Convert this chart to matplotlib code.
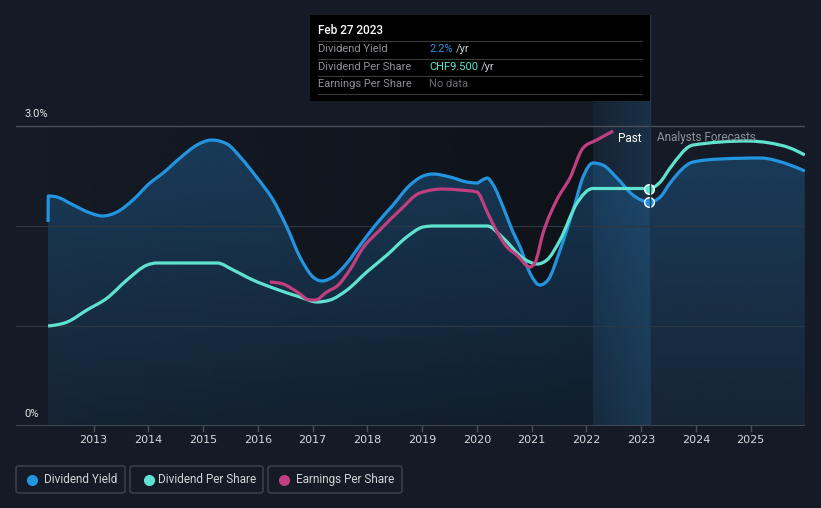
import numpy as np
import matplotlib
matplotlib.use("Agg")
import matplotlib.pyplot as plt
from matplotlib.patches import FancyBboxPatch, Rectangle, PathPatch
from matplotlib.path import Path
from matplotlib.lines import Line2D
from matplotlib.colors import to_rgb

# ---------------- data ----------------
yield_t = [2012.17, 2012.175, 2012.33, 2012.63, 2012.94, 2013.17, 2013.43, 2013.72, 2014.03, 2014.27,
           2014.58, 2014.89, 2015.16, 2015.44, 2015.68, 2015.99, 2016.28, 2016.53, 2016.77, 2017.01,
           2017.17, 2017.37, 2017.63, 2017.87, 2018.18, 2018.47, 2018.78, 2019.02, 2019.20, 2019.51,
           2019.82, 2020.00, 2020.10, 2020.19, 2020.30, 2020.48, 2020.66, 2020.79, 2020.97, 2021.15,
           2021.30, 2021.52, 2021.76, 2021.94, 2022.12, 2022.30, 2022.56, 2022.85, 2023.15, 2023.35,
           2023.53, 2023.95, 2024.44, 2025.17, 2025.72, 2025.99]
yield_v = [2.04, 2.30, 2.29, 2.21, 2.13, 2.10, 2.14, 2.26, 2.43, 2.53,
           2.68, 2.81, 2.86, 2.82, 2.69, 2.48, 2.26, 1.99, 1.69, 1.49,
           1.45, 1.49, 1.63, 1.81, 2.03, 2.21, 2.41, 2.50, 2.52, 2.49,
           2.44, 2.43, 2.46, 2.48, 2.41, 2.19, 1.94, 1.79, 1.53, 1.41,
           1.46, 1.76, 2.16, 2.49, 2.63, 2.61, 2.48, 2.31, 2.24, 2.29,
           2.43, 2.64, 2.67, 2.68, 2.61, 2.55]

dps_t = [2012.17, 2012.52, 2012.88, 2013.25, 2013.61, 2013.98, 2014.16, 2015.26, 2015.55, 2015.91,
         2016.28, 2016.77, 2017.08, 2017.32, 2017.63, 2017.99, 2018.36, 2018.72, 2019.02, 2019.20,
         2020.19, 2020.48, 2020.84, 2021.10, 2021.28, 2021.52, 2021.83, 2022.12, 2023.15, 2023.35,
         2023.53, 2023.95, 2024.93, 2025.35, 2025.72, 2025.99]
dps_v = [4.00, 4.16, 4.64, 5.12, 5.84, 6.44, 6.52, 6.52, 6.24, 5.84,
         5.52, 5.16, 4.96, 5.04, 5.44, 6.16, 6.84, 7.56, 7.96, 8.00,
         8.00, 7.52, 6.72, 6.48, 6.64, 7.44, 8.92, 9.50, 9.50, 9.76,
         10.32, 11.24, 11.40, 11.32, 11.12, 10.84]

eps_t = [2016.22, 2016.46, 2016.72, 2016.95, 2017.05, 2017.26, 2017.47, 2017.68, 2017.92, 2018.23,
         2018.60, 2018.96, 2019.38, 2019.69, 2020.00, 2020.19, 2020.37, 2020.55, 2020.73, 2020.97,
         2021.06, 2021.21, 2021.46, 2021.70, 2021.94, 2022.19, 2022.49]
eps_v = [14.4, 14.2, 13.4, 12.6, 12.6, 13.4, 14.1, 15.6, 17.8, 19.6,
         21.6, 23.3, 23.7, 23.6, 23.4, 21.4, 19.4, 17.9, 17.1, 15.9,
         16.3, 19.3, 22.6, 24.8, 27.8, 28.6, 29.5]

years = list(range(2013, 2026))
today = 2023.15
past_band_start = 2022.12

BLUE = "#2394df"
TEAL = "#5fe3cf"
PINK = "#c13f80"
BG = "#151b26"


def monotone_path(xs, ys):
    """Smooth monotone-x cubic Bezier path through the given points."""
    x = np.asarray(xs, float)
    y = np.asarray(ys, float)
    nn = len(x)
    h = np.diff(x)
    s = np.diff(y) / h
    t = np.zeros(nn)
    for i in range(1, nn - 1):
        h0, h1, s0, s1 = h[i - 1], h[i], s[i - 1], s[i]
        p = (s0 * h1 + s1 * h0) / (h0 + h1)
        t[i] = (np.sign(s0) + np.sign(s1)) * min(abs(s0), abs(s1), 0.5 * abs(p))
    t[0] = (3 * s[0] - t[1]) / 2 if nn > 2 else s[0]
    t[-1] = (3 * s[-1] - t[-2]) / 2 if nn > 2 else s[-1]
    verts = [(x[0], y[0])]
    codes = [Path.MOVETO]
    for i in range(nn - 1):
        dx = (x[i + 1] - x[i]) / 3
        verts += [(x[i] + dx, y[i] + dx * t[i]), (x[i + 1] - dx, y[i + 1] - dx * t[i + 1]), (x[i + 1], y[i + 1])]
        codes += [Path.CURVE4] * 3
    return verts, codes


W, H = 821, 508
fig = plt.figure(figsize=(W / 100, H / 100), dpi=100, facecolor=BG)


def fx(px):
    return px / W


def fy(py):
    return 1 - py / H


ax = fig.add_axes([fx(16), fy(426), fx(805) - fx(16), fy(100) - fy(426)])
ax.set_facecolor("none")
xmin = 2013 + (16 - 93.5) / 54.76
xmax = 2013 + (805 - 93.5) / 54.76
ytop = 3.26
for sp in ax.spines.values():
    sp.set_visible(False)
ax.set_xticks([])
ax.set_yticks([])

t0 = yield_t[0]
t1 = yield_t[-1]

# dark horizontal gradient over past region
n = 256
grad = np.zeros((1, n, 4))
grad[..., 0:3] = np.array(to_rgb("#0a0d12"))
grad[0, :, 3] = np.linspace(0.05, 0.6, n)
ax.imshow(grad, extent=[t0, past_band_start, 0, 3.0], aspect="auto", origin="lower", zorder=0.5,
          interpolation="bilinear")

# fill under yield curve (vertical gradient)
yv_verts, yv_codes = monotone_path(yield_t, yield_v)
fill_path = Path(yv_verts + [(t1, 0), (t0, 0), (t0, 0)], yv_codes + [Path.LINETO, Path.LINETO, Path.CLOSEPOLY])
clip = PathPatch(fill_path, facecolor="none", edgecolor="none", transform=ax.transData)
ax.add_patch(clip)
m = 256
vg = np.zeros((m, 1, 4))
vg[..., 0:3] = np.array(to_rgb("#1f5a8a"))
vg[:, 0, 3] = np.linspace(0.15, 0.55, m)
im = ax.imshow(vg, extent=[t0, t1, 0, 3.0], aspect="auto", origin="lower", zorder=1,
               interpolation="bilinear")
im.set_clip_path(clip)

# past highlight band
bg2 = np.zeros((1, n, 4))
bg2[..., 0:3] = np.array(to_rgb("#2a80c0"))
bg2[0, :, 3] = np.linspace(0.07, 0.22, n)
ax.imshow(bg2, extent=[past_band_start, today, 0, ytop], aspect="auto", origin="lower", zorder=1.2,
          interpolation="bilinear")

# grid lines
ax.axhline(3.0, color="#4a5059", lw=1.0, zorder=1.5)
for g in (1.0, 2.0):
    ax.axhline(g, color="#2c3744", lw=0.9, zorder=1.5)
ax.axhline(0.0, color="#4a5059", lw=1.2, zorder=1.5)

ax.set_xlim(xmin, xmax)
ax.set_ylim(0, ytop)

# twin axes for DPS and EPS (hidden scales)
ax2 = ax.twinx()
ax2.set_ylim(0, 12.0 * ytop / 3.0)
ax3 = ax.twinx()
ax3.set_ylim(0, 30.0 * ytop / 3.0)
for a in (ax2, ax3):
    a.set_facecolor("none")
    a.set_yticks([])
    for sp in a.spines.values():
        sp.set_visible(False)
    a.set_xlim(xmin, xmax)

for a, xs, ys, col, z in ((ax, yield_t, yield_v, BLUE, 5), (ax2, dps_t, dps_v, TEAL, 4), (ax3, eps_t, eps_v, PINK, 3)):
    v, c = monotone_path(xs, ys)
    a.add_patch(PathPatch(Path(v, c), facecolor="none", edgecolor=col, lw=2.3, zorder=z,
                          joinstyle="round", capstyle="butt", transform=a.transData))

ax.plot([today], [yield_v[yield_t.index(today)]], "o", ms=7, mfc=BLUE, mec="white", mew=1.0, zorder=6)
ax2.plot([today], [dps_v[dps_t.index(today)]], "o", ms=7, mfc=TEAL, mec="white", mew=1.0, zorder=6)

# tick marks and labels
for yr in years:
    xp = 93.5 + (yr - 2013) * 54.76
    fig.add_artist(Line2D([fx(xp), fx(xp)], [fy(426), fy(431)], color="#4a5059", lw=1.0))
    fig.text(fx(xp), fy(440), str(yr), color="#d6d9dd", fontsize=8, ha="center", va="center",
             family=["Liberation Sans Narrow", "DejaVu Sans"])

# vertical line at today up to tooltip
fig.add_artist(Line2D([fx(650), fx(650)], [fy(426), fy(15)], color="#243447", lw=1.0, zorder=2))

# y labels
fig.text(fx(24), fy(114), "3.0%", color="#e2e4e7", fontsize=8, ha="left", va="center", family="Roboto")
fig.text(fx(24), fy(414), "0%", color="#e2e4e7", fontsize=8, ha="left", va="center", family="Roboto")

# past / forecast labels
fig.text(fx(641), fy(138), "Past", color="#ffffff", fontsize=8.5, ha="right", va="center", family="Roboto")
fig.text(fx(657), fy(138), "Analysts Forecasts", color="#8b9199", fontsize=8.5, ha="left", va="center",
         family="Roboto")

# tooltip
fig.add_artist(Rectangle((fx(310), fy(101)), fx(650) - fx(310), fy(15) - fy(101), facecolor="black",
                         edgecolor="none", zorder=10))
fig.text(fx(318), fy(31), "Feb 27 2023", color="white", fontsize=8.5, ha="left", va="center",
         family="Roboto", fontweight="medium", zorder=11)
for ys_ in (41, 58.5, 76, 93.5):
    fig.add_artist(Line2D([fx(318), fx(642)], [fy(ys_), fy(ys_)], color="#3a3a3a", lw=0.8, zorder=11))
rows = [("Dividend Yield", 49, "2.2%", BLUE, 456),
        ("Dividend Per Share", 66.5, "CHF9.500", TEAL, 481),
        ("Earnings Per Share", 84, "No data", "#666a70", None)]
for lab, yy, val, col, xs_ in rows:
    fig.text(fx(318), fy(yy), lab, color="#8d9196", fontsize=8, ha="left", va="center", family="Roboto",
             zorder=11)
    fig.text(fx(429), fy(yy), val, color=col, fontsize=8, ha="left", va="center", family="Roboto", zorder=11)
    if xs_ is not None:
        fig.text(fx(xs_), fy(yy), "/yr", color="#c8ccd0", fontsize=8, ha="left", va="center", family="Roboto",
                 zorder=11)

# legend
legend_items = [("Dividend Yield", BLUE, 16, 125, 32, 44),
                ("Dividend Per Share", TEAL, 130, 263, 149, 158),
                ("Earnings Per Share", PINK, 268, 402, 284, 296)]
for lab, col, x0, x1, xd, xt in legend_items:
    fig.add_artist(FancyBboxPatch((fx(x0), fy(493)), fx(x1) - fx(x0), fy(466) - fy(493),
                                  boxstyle="round,pad=0,rounding_size=0.004", facecolor="none",
                                  edgecolor="#3e4550", lw=1.0))
    fig.add_artist(Line2D([fx(xd)], [fy(479.5)], marker="o", ms=7, color=col, mec=col, lw=0))
    fig.text(fx(xt), fy(479.5), lab, color="#d0d4d8", fontsize=8.5, ha="left", va="center", family="Roboto")

fig.savefig("out.png", dpi=100, facecolor=BG)
